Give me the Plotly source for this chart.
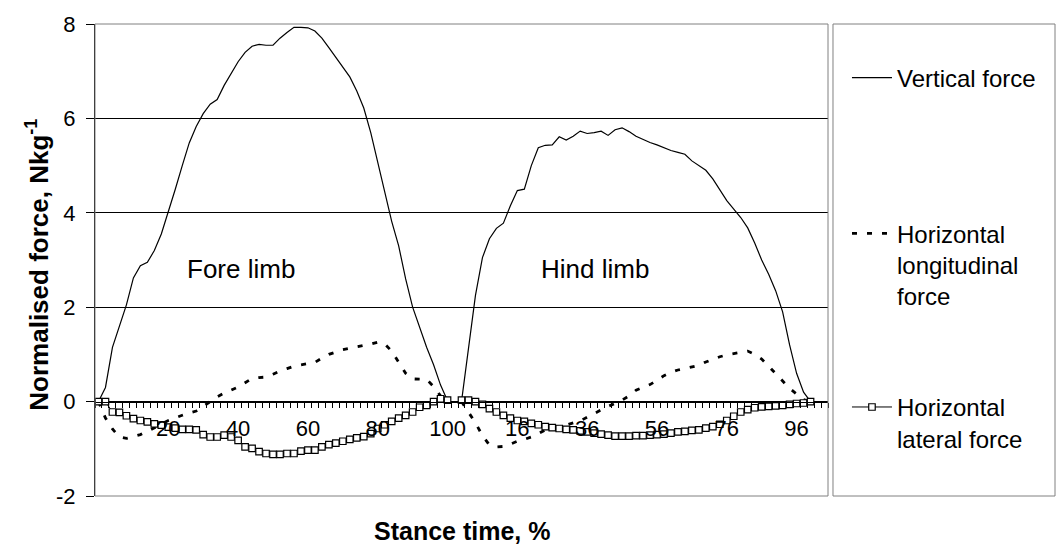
import plotly.graph_objects as go

# ---------------- data ----------------
fore_pct = list(range(0, 101, 2))   # stance time categories, fore limb (%)
hind_pct = list(range(0, 101, 2))   # stance time categories, hind limb (%)

fore_vertical = [0.0, 0.3, 1.15, 1.6, 2.05, 2.62, 2.88, 2.95, 3.2, 3.55, 4.0, 4.5, 5.0,
                 5.48, 5.83, 6.1, 6.3, 6.4, 6.7, 6.95, 7.2, 7.4, 7.53, 7.57, 7.55, 7.55,
                 7.7, 7.82, 7.93, 7.93, 7.92, 7.85, 7.7, 7.5, 7.3, 7.1, 6.88, 6.58, 6.22,
                 5.7, 5.05, 4.45, 3.82, 3.3, 2.6, 2.0, 1.55, 1.15, 0.78, 0.35, 0.02]
hind_vertical = [0.0, 1.1, 2.25, 3.05, 3.45, 3.67, 3.78, 4.15, 4.47, 4.5, 5.0, 5.38, 5.43,
                 5.44, 5.61, 5.54, 5.62, 5.73, 5.68, 5.7, 5.73, 5.64, 5.76, 5.8, 5.72, 5.62,
                 5.55, 5.49, 5.44, 5.38, 5.32, 5.28, 5.24, 5.1, 5.0, 4.9, 4.72, 4.5, 4.26,
                 4.08, 3.9, 3.68, 3.36, 3.0, 2.7, 2.35, 1.9, 1.2, 0.6, 0.2, 0.0]

fore_longitudinal = [0.0, -0.35, -0.58, -0.75, -0.78, -0.74, -0.7, -0.63, -0.56, -0.48, -0.4,
                     -0.34, -0.29, -0.24, -0.2, -0.1, 0.0, 0.1, 0.18, 0.25, 0.31, 0.4, 0.49,
                     0.51, 0.52, 0.58, 0.65, 0.7, 0.75, 0.78, 0.8, 0.83, 0.92, 1.0, 1.05, 1.1,
                     1.13, 1.16, 1.18, 1.22, 1.26, 1.22, 1.07, 0.83, 0.6, 0.48, 0.47, 0.47,
                     0.32, 0.12, 0.0]
hind_longitudinal = [0.0, -0.22, -0.45, -0.72, -0.92, -0.96, -0.95, -0.9, -0.84, -0.8, -0.75,
                     -0.68, -0.6, -0.55, -0.53, -0.5, -0.45, -0.41, -0.33, -0.25, -0.18, -0.1,
                     -0.04, 0.03, 0.12, 0.24, 0.3, 0.36, 0.45, 0.55, 0.62, 0.67, 0.7, 0.73,
                     0.77, 0.84, 0.9, 0.95, 0.99, 1.02, 1.05, 1.07, 1.0, 0.9, 0.75, 0.6, 0.45,
                     0.28, 0.16, 0.04, 0.0]

fore_lateral = [0.0, 0.0, -0.22, -0.23, -0.3, -0.36, -0.4, -0.43, -0.47, -0.5, -0.54, -0.56,
                -0.59, -0.59, -0.6, -0.7, -0.75, -0.75, -0.71, -0.75, -0.82, -0.96, -0.99,
                -1.06, -1.1, -1.12, -1.12, -1.1, -1.1, -1.05, -1.03, -1.03, -0.96, -0.91,
                -0.88, -0.84, -0.8, -0.77, -0.74, -0.68, -0.57, -0.49, -0.42, -0.35, -0.29,
                -0.22, -0.12, -0.08, 0.0, 0.06, 0.03]
hind_lateral = [0.03, 0.03, 0.0, -0.06, -0.15, -0.22, -0.29, -0.35, -0.4, -0.42, -0.46, -0.49,
                -0.53, -0.55, -0.57, -0.59, -0.6, -0.62, -0.64, -0.67, -0.69, -0.71, -0.73,
                -0.73, -0.73, -0.72, -0.72, -0.71, -0.7, -0.69, -0.67, -0.64, -0.63, -0.61,
                -0.6, -0.56, -0.53, -0.48, -0.4, -0.31, -0.22, -0.17, -0.13, -0.11, -0.1,
                -0.09, -0.08, -0.06, -0.04, -0.03, 0.0]

series_names = ["Vertical force", "Horizontal<br>longitudinal<br>force", "Horizontal<br>lateral force"]
annotation_texts = ["Fore limb", "Hind limb"]
y_ticks = [-2, 0, 2, 4, 6, 8]
y_range = [y_ticks[0], y_ticks[-1]]

# ---------------- category axis (fore, gap, hind, trailing gaps) ----------------
categories = [str(p) for p in fore_pct] + [""] + [str(p) for p in hind_pct] + ["", ""]
x_all = list(range(len(categories)))


def joined(fore, hind):
    return fore + [None] + hind + [None, None]


label_idx = list(range(10, len(categories), 10))
label_txt = [categories[i] for i in label_idx]

FONT = "Liberation Sans, Arial, sans-serif"
fig = go.Figure()

fig.add_trace(go.Scatter(x=x_all, y=joined(fore_vertical, hind_vertical), mode="lines",
                         name=series_names[0], line=dict(color="black", width=1.2),
                         connectgaps=False, legend="legend"))
fig.add_trace(go.Scatter(x=x_all, y=joined(fore_longitudinal, hind_longitudinal), mode="lines",
                         name=series_names[1], line=dict(color="black", width=2.8, dash="5px,10px"),
                         connectgaps=False, legend="legend2"))
fig.add_trace(go.Scatter(x=x_all, y=joined(fore_lateral, hind_lateral), mode="lines+markers",
                         name=series_names[2], line=dict(color="black", width=1),
                         marker=dict(symbol="square", size=6.5, color="white",
                                     line=dict(color="black", width=1.2)),
                         connectgaps=False, legend="legend3"))

leg = dict(font=dict(family=FONT, size=24, color="black"), bgcolor="rgba(0,0,0,0)",
           borderwidth=0, xref="container", yref="container", xanchor="left",
           yanchor="top", valign="top", itemwidth=40)

fig.update_layout(
    width=1057, height=544,
    margin=dict(l=95, r=229, t=21, b=48),
    paper_bgcolor="white", plot_bgcolor="white",
    font=dict(family=FONT, size=22, color="black"),
    showlegend=True,
    legend=dict(leg, x=0.8013, y=0.898),
    legend2=dict(leg, x=0.8013, y=0.6115),
    legend3=dict(leg, x=0.8013, y=0.2925),
    xaxis=dict(range=[-0.5, len(categories) - 0.5], anchor="free",
               position=(0 - y_range[0]) / (y_range[1] - y_range[0]),
               showline=True, linecolor="black", linewidth=1, showgrid=False, zeroline=False,
               tickmode="array", tickvals=label_idx, ticktext=label_txt,
               ticks="outside", ticklen=5, tickcolor="rgba(0,0,0,0)",
               ticklabelstandoff=2,
               tickfont=dict(family=FONT, size=22, color="black"),
               minor=dict(tick0=0.5, dtick=1, ticks="outside", ticklen=5,
                          tickcolor="black", tickwidth=1, showgrid=False)),
    yaxis=dict(range=y_range, tickmode="array", tickvals=y_ticks,
               ticktext=[str(v) for v in y_ticks],
               showline=True, linecolor="black", linewidth=1,
               showgrid=True, gridcolor="black", gridwidth=1, zeroline=False,
               ticks="outside", ticklen=8, tickcolor="black",
               tickfont=dict(family=FONT, size=22, color="black"), ticklabelstandoff=6),
    shapes=[
        dict(type="rect", xref="paper", yref="paper", x0=0, x1=1, y0=0, y1=1,
             line=dict(color="#808080", width=1), fillcolor="rgba(0,0,0,0)", layer="above"),
        dict(type="rect", xref="paper", yref="paper", x0=1.0068, x1=1.3097, y0=0, y1=1,
             line=dict(color="#808080", width=1), fillcolor="rgba(0,0,0,0)", layer="above"),
    ],
    annotations=[
        dict(text=annotation_texts[0], x=20.4, y=2.8, xref="x", yref="y", showarrow=False,
             font=dict(family=FONT, size=26, color="black")),
        dict(text=annotation_texts[1], x=71.1, y=2.8, xref="x", yref="y", showarrow=False,
             font=dict(family=FONT, size=26, color="black")),
        dict(text="<b>Stance time, %</b>", x=0.5, y=-0.074, xref="paper", yref="paper",
             xanchor="center", yanchor="middle", showarrow=False,
             font=dict(family=FONT, size=25, color="black")),
        dict(text="<b>Normalised force, Nkg<sup>-1</sup></b>", x=-0.0778, y=0.49,
             xref="paper", yref="paper", xanchor="center", yanchor="middle",
             textangle=-90, showarrow=False, font=dict(family=FONT, size=26, color="black")),
    ],
)

fig.write_html("out.html", config={"displayModeBar": False},
               post_script="document.body.style.margin='0px';")
